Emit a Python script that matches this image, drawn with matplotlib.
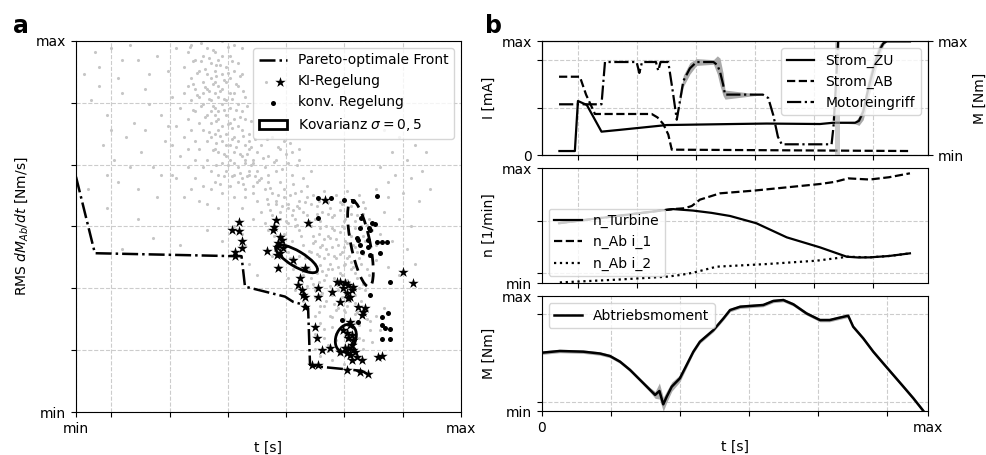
import numpy as np
import matplotlib
matplotlib.use('Agg')
import matplotlib.pyplot as plt
from matplotlib.patches import Ellipse
from matplotlib.legend_handler import HandlerTuple

plt.rcParams['font.family'] = ['DejaVu Sans']
plt.rcParams['font.size'] = 10

# ---------------- panel a data (normalised 0..100) ----------------
gray_txt = """
30 99 34 98 38 100 41 99 29 97 33 96 36 97 40 96 43 98 31 95 35 94 37 95 39 93 42 94 28 93 32 92 34 91
36 92 38 91 41 92 30 90 33 89 35 90 37 88 39 89 40 90 43 91 29 88 31 87 34 87 36 86 38 87 42 88 32 85
35 84 37 85 39 84 41 86 44 85 30 84 33 83 36 82 38 83 40 82 42 83 31 81 34 80 36 80 37 81 39 80 41 79
43 81 29 79 32 78 35 78 38 77 40 78 42 77 44 79 33 76 36 75 37 76 39 75 41 74 43 76 45 75 30 76 34 73
35 74 38 73 40 72 42 73 44 72 32 71 36 71 37 70 39 69 41 70 43 69 45 71 34 68 38 67 40 68 42 66 44 67
46 68 35 65 37 64 39 65 41 64 43 63 45 65 36 62 40 61 42 62 44 60 47 62 38 59 41 58 46 59 33 66 31 73
28 86 27 82 29 71 38 96 36 89 40 86 37 79 39 72 41 67 35 81 33 86
32.5 94.5 36.5 90.5 34.5 84.5 38.5 81.5 40.5 76.5 36.5 72.5 42.5 69.5 38.5 63.5 44.5 63.5 30.5 81.5
29.5 98.5 32.5 99.5 35.5 97.5 39.5 98.5 30.5 94.5 34.5 95.5 37.5 93.5 40.5 94.5 31.5 91.5 33.5 92.5
36.5 93.5 39.5 91.5 42.5 90.5 30.5 88.5 33.5 87.5 35.5 88.5 38.5 89.5 41.5 88.5 31.5 85.5 34.5 86.5
37.5 86.5 40.5 84.5 43.5 86.5 32.5 82.5 35.5 82.5 38.5 84.5 41.5 81.5 44.5 82.5 33.5 79.5 36.5 78.5
39.5 77.5 42.5 79.5 45.5 78.5 34.5 75.5 37.5 74.5 40.5 73.5 43.5 74.5 46.5 73.5 35.5 70.5 38.5 69.5
41.5 71.5 44.5 69.5 36.5 66.5 39.5 66.5 42.5 64.5 45.5 66.5 37.5 61.5 40.5 63.5 43.5 61.5 46.5 63.5
5 97 6 93 9 98 11 90 14 99 16 95 18 87 21 96 24 92 26 98 4 84 8 80 12 86 15 78 19 83 22 80 25 85 7 72
10 68 13 74 17 70 20 66 23 73 11 62 16 60 21 58 6 88 19 91 24 77 14 66 18 76 9 76 22 64 12 95 25 64
3 60 8 64 2 91
45 73 48 72 51 74 54 73 47 70 50 69 53 71 56 70 44 68 46 67 49 66 52 68 55 67 58 68 45 64 48 63 50 64
53 62 56 64 59 63 46 61 49 60 51 59 54 60 57 59 47 57 50 56 52 57 55 56 58 57 60 58 48 54 51 53 53 54
56 53 59 54 49 51 52 50 55 51 57 50 44 58 43 55 46 52 60 61 61 65 58 71 52 65 54 58 47 65 50 62 26 77
28 74 27 69 29 66 31 63 26 63 30 60 33 61 28 58 32 57 35 60 34 56 37 55 31 68 25 72
45.5 71.5 49.5 73.5 52.5 71.5 55.5 72.5 48.5 68.5 51.5 67.5 54.5 69.5 57.5 66.5 47.5 62.5 50.5 60.5
53.5 65.5 56.5 61.5 49.5 57.5 52.5 58.5 55.5 58.5 58.5 59.5 50.5 54.5 53.5 55.5 57.5 55.5 54.5 51.5
51.5 47.5 53.5 45.5 55.5 41.5 56.5 38.5 58.5 35.5
52 56 55 55 58 55 61 56 63 57 66 55 69 56 72 57 75 55 53 52 57 52 60 53 62 52 64 54 67 53 70 52 73 53
76 52 50 49 54 48 58 49 61 50 63 48 65 50 67 49 69 50 71 48 74 50 77 49 52 45 56 46 59 45 62 46 64 45
66 47 68 45 70 46 72 45 75 46 78 45 51 42 55 43 58 42 61 43 63 42 65 44 67 42 69 43 71 42 73 43 76 42
53 39 57 40 60 39 62 40 64 38 66 40 68 39 70 40 72 39 74 40 55 36 59 37 61 36 63 35 65 37 67 36 69 37
71 35 73 36 76 37 57 33 60 34 62 33 64 32 66 34 68 33 70 32 72 34 75 33 59 30 62 31 65 30 67 29 69 31
71 30 74 30 63 27 66 26 68 28 70 27 73 27
61.5 58.5 64.5 59.5 67.5 58.5 70.5 59.5 73.5 58.5 62.5 55.5 65.5 56.5 68.5 54.5 71.5 55.5 74.5 56.5
63.5 51.5 66.5 52.5 69.5 51.5 72.5 51.5 65.5 47.5 68.5 48.5 71.5 47.5 74.5 47.5 63.5 44.5 66.5 44.5
69.5 44.5 72.5 44.5 64.5 41.5 67.5 41.5 70.5 41.5 73.5 41.5 65.5 38.5 68.5 37.5 71.5 38.5 62.5 37.5
66.5 31.5 69.5 34.5 72.5 31.5 74.5 34.5 60.5 43.5 61.5 47.5
56.5 54.5 59.5 56.5 62.5 53.5 65.5 53.5 68.5 56.5 71.5 53.5 74.5 53.5 57.5 50.5 60.5 51.5 63.5 49.5
66.5 49.5 69.5 49.5 72.5 49.5 75.5 50.5 58.5 47.5 61.5 45.5 64.5 46.5 67.5 46.5 70.5 45.5 73.5 45.5
76.5 44.5 59.5 41.5 62.5 42.5 65.5 42.5 68.5 42.5 71.5 40.5 74.5 42.5 60.5 38.5 63.5 39.5 66.5 38.5
69.5 39.5 72.5 37.5 75.5 38.5 61.5 34.5 64.5 35.5 67.5 34.5 70.5 35.5 73.5 33.5 63.5 31.5 66.5 32.5
68.5 30.5 71.5 32.5 64.5 28.5 67.5 27.5 70.5 28.5 72.5 29.5
62 26 63.5 24 66.5 23 69.5 25 72.5 24 75.5 25 78 26 62 21 64.5 20 67.5 21 70.5 22 73.5 20 76.5 22
62 17 65.5 18 68.5 17 71.5 18 74.5 17 77 19 66.5 14 69.5 13 72.5 15 63.5 15 79 22 80 28
63.5 28.5 66.5 25.5 69.5 27.5 72.5 26.5 75.5 27.5 64.5 22.5 67.5 19.5 70.5 19.5 73.5 23.5 76.5 24.5
65.5 16.5 68.5 15.5 71.5 21.5 74.5 19.5
80 76 84 74 88 72 91 70 82 70 86 68 79 66 83 64 87 63 90 65 78 60 81 58 85 59 89 57 80 54 84 52 87 50
79 48 82 46 86 44 78 41 81 39 84 37 88 40 77 35 92 60 85 78 81 62
20 47 12 44 27 45 34 49 38 46 41 50 16 52 8 55 44 45 45 40 47 37 43 48
"""
gray_pts = np.array(gray_txt.split(), float).reshape(-1, 2)

ki_x = [42.4, 40.6, 42.4, 43.0, 43.2, 41.3, 41.3, 51.9, 51.4, 51.2, 53.0, 53.4, 52.5, 52.1, 53.8,
        49.5, 53.0, 52.1, 56.4, 59.5, 52.5, 58.2, 57.7, 58.6, 59.0, 59.5, 62.9, 62.9, 59.5, 68.6,
        69.9, 70.7, 69.4, 71.6, 70.3, 71.2, 68.6, 70.7, 66.4, 72.0, 73.3, 74.6, 75.1, 74.2, 69.4,
        70.3, 71.6, 71.2, 70.7, 72.0, 71.6, 70.7, 72.5, 71.2, 72.9, 71.6, 74.2, 70.3, 72.0, 69.9,
        62.1, 62.5, 63.8, 66.0, 68.6, 61.2, 62.9, 70.3, 73.8, 75.9, 78.5, 79.4, 85.0, 87.6, 60.3,
        64.7, 67.7, 71.2]
ki_y = [51.3, 49.1, 48.9, 46.2, 44.1, 43.2, 42.0, 51.8, 49.9, 49.1, 47.3, 46.4, 45.5, 44.6, 44.1,
        43.5, 42.9, 42.3, 41.0, 38.7, 38.7, 36.0, 34.2, 32.9, 31.5, 31.1, 33.3, 31.1, 28.4, 35.1,
        34.7, 34.2, 33.3, 32.9, 32.0, 31.1, 29.7, 30.6, 32.4, 33.8, 28.4, 27.0, 28.0, 26.1, 22.1,
        21.2, 20.8, 23.5, 19.9, 19.4, 18.1, 17.2, 16.3, 15.4, 14.9, 14.0, 14.0, 15.8, 16.7, 17.2,
        23.0, 19.9, 16.7, 17.2, 16.3, 12.7, 12.7, 11.3, 10.9, 10.2, 14.9, 15.1, 37.8, 34.7, 50.9,
        57.1, 35.1, 24.3]

konv_x = [62.9, 66.2, 69.7, 72.0, 78.3, 62.9, 74.0, 73.8, 76.2, 77.7, 72.9, 79.4, 80.9, 73.8,
          75.9, 79.0, 74.2, 76.4, 81.6, 76.4, 79.4, 81.1, 79.4, 80.3, 81.6, 79.4, 81.6, 69.0,
          73.3, 76.8, 76.4, 75.9, 78.1, 73.3]
konv_y = [57.6, 57.6, 57.1, 56.9, 58.3, 52.2, 52.2, 49.5, 49.7, 50.6, 46.8, 45.9, 45.9, 45.0,
          44.6, 42.8, 43.2, 42.3, 35.1, 31.5, 25.7, 26.6, 23.5, 22.6, 22.4, 19.7, 19.7, 24.8,
          24.3, 50.9, 49.1, 46.4, 45.9, 46.4]

front_x = [0, 4.9, 41.3, 43.0, 43.9, 54.3, 56.4, 59.5, 60.3, 60.8, 63.4, 70.3, 74.2, 75.5]
front_y = [63.4, 42.8, 42.0, 42.0, 33.8, 31.1, 29.7, 28.8, 28.0, 12.7, 12.2, 11.5, 11.1, 10.4]

# covariance ellipses: (centre x, centre y, width, height, angle)
cov_ki_big = (57.3, 41.3, 12.6, 4.1, -32)
cov_ki_small = (70.1, 19.9, 7.6, 5.2, 72)
cov_konv = (73.9, 45.4, 23.7, 5.0, 101)

xt_a = [0, 9.1, 24.4, 39.5, 54.5, 69.6, 84.9, 100]
yt_a = [0, 16.67, 33.33, 50, 66.67, 83.33, 100]

# ---------------- panel b data (normalised 0..1) ----------------
zu_x = [0.046, 0.086, 0.094, 0.117, 0.155, 0.20, 0.324, 0.496, 0.583, 0.721, 0.755,
        0.812, 0.822, 0.833, 0.842, 0.851, 0.860, 0.868, 0.877, 0.885, 0.894, 0.954]
zu_y = [0.035, 0.035, 0.474, 0.439, 0.205, 0.22, 0.263, 0.272, 0.276, 0.272, 0.283,
        0.283, 0.30, 0.38, 0.52, 0.646, 0.76, 0.85, 0.93, 0.98, 0.997, 0.997]
zu_s = [0, 0, 0, 0, 0, 0, 0, 0, 0, 0, 0,
        0.01, 0.04, 0.07, 0.09, 0.09, 0.08, 0.07, 0.05, 0.02, 0, 0]

ab_x = [0.045, 0.099, 0.115, 0.138, 0.285, 0.30, 0.315, 0.328, 0.337, 0.954]
ab_y = [0.687, 0.687, 0.53, 0.36, 0.36, 0.33, 0.272, 0.18, 0.047, 0.035]

mot_x = [0.045, 0.155, 0.164, 0.246, 0.253, 0.260, 0.296, 0.302, 0.308, 0.328, 0.340, 0.350,
         0.358, 0.367, 0.384, 0.401, 0.445, 0.455, 0.462, 0.470, 0.475, 0.573, 0.587, 0.600,
         0.612, 0.622, 0.751, 0.756, 0.762, 0.768]
mot_y = [0.445, 0.445, 0.816, 0.816, 0.72, 0.816, 0.816, 0.74, 0.816, 0.816, 0.55, 0.31,
         0.47, 0.65, 0.76, 0.816, 0.816, 0.79, 0.73, 0.62, 0.53, 0.53, 0.50, 0.35,
         0.16, 0.094, 0.094, 0.25, 0.6, 1.0]
mot_s = [0, 0, 0, 0, 0, 0, 0, 0, 0, 0, 0, 0,
         0.02, 0.05, 0.05, 0.03, 0.02, 0.08, 0.12, 0.10, 0.04, 0, 0, 0,
         0, 0, 0, 0, 0, 0]
mot_band = (0.760, 0.773)

nt_x = [0.045, 0.125, 0.34, 0.392, 0.44, 0.488, 0.556, 0.635, 0.721, 0.79, 0.82, 0.85, 0.90, 0.954]
nt_y = [0.52, 0.554, 0.643, 0.63, 0.61, 0.583, 0.52, 0.397, 0.31, 0.229, 0.222, 0.223, 0.235, 0.258]
n1_x = [0.045, 0.125, 0.34, 0.37, 0.389, 0.41, 0.462, 0.548, 0.635, 0.721, 0.76, 0.794, 0.85, 0.90, 0.954]
n1_y = [0.52, 0.554, 0.643, 0.65, 0.67, 0.725, 0.78, 0.803, 0.832, 0.861, 0.88, 0.91, 0.90, 0.92, 0.954]
n2_x = [0.047, 0.20, 0.324, 0.36, 0.393, 0.453, 0.583, 0.712, 0.78, 0.79, 0.85, 0.90, 0.954]
n2_y = [0.005, 0.03, 0.055, 0.07, 0.09, 0.142, 0.165, 0.194, 0.223, 0.229, 0.223, 0.235, 0.258]

m_x = [0, 0.047, 0.108, 0.151, 0.177, 0.203, 0.229, 0.255, 0.281, 0.294, 0.305, 0.315, 0.324,
       0.337, 0.358, 0.393, 0.41, 0.445, 0.471, 0.488, 0.514, 0.574, 0.60, 0.626, 0.652, 0.686,
       0.721, 0.746, 0.772, 0.794, 0.807, 0.833, 0.859, 0.885, 0.911, 0.937, 0.963, 0.989]
m_y = [0.507, 0.522, 0.516, 0.50, 0.478, 0.429, 0.357, 0.27, 0.183, 0.14, 0.174, 0.058, 0.125,
       0.212, 0.284, 0.516, 0.603, 0.704, 0.806, 0.878, 0.907, 0.922, 0.957, 0.965, 0.928, 0.849,
       0.791, 0.791, 0.812, 0.829, 0.733, 0.632, 0.516, 0.414, 0.313, 0.212, 0.11, 0.0]
m_s = [0.015, 0.015, 0.015, 0.015, 0.015, 0.015, 0.015, 0.015, 0.02, 0.03, 0.07, 0.06, 0.05,
       0.04, 0.03, 0.015, 0.015, 0.015, 0.015, 0.015, 0.015, 0.015, 0.015, 0.015, 0.015, 0.015,
       0.015, 0.015, 0.015, 0.015, 0.015, 0.015, 0.015, 0.015, 0.015, 0.015, 0.015, 0.015]

xt_r = [0.094, 0.247, 0.400, 0.553, 0.705, 0.858]
xt_b = [0, 0.179, 0.358, 0.536, 0.715, 0.894, 1.0]
yt_top = [0, 0.412, 0.833, 1.0]
yt_mid = [0, 0.087, 0.54, 1.0]
yt_bot = [0, 0.078, 0.843, 1.0]

GRID = dict(ls='--', color='#cccccc', lw=0.8)
BAND = '#aaaaaa'

fig = plt.figure(figsize=(9.87, 4.55), dpi=100)

# ---------------- panel a ----------------
axa = fig.add_axes([0.077, 0.0945, 0.390, 0.8154])
axa.set_axisbelow(True)
axa.set_xlim(0, 100)
axa.set_ylim(0, 100)
axa.set_xticks(xt_a)
axa.set_xticklabels(['min'] + [''] * (len(xt_a) - 2) + ['max'])
axa.set_yticks(yt_a)
axa.set_yticklabels(['min'] + [''] * (len(yt_a) - 2) + ['max'])
axa.grid(True, **GRID)

sc_gray = axa.scatter(gray_pts[:, 0], gray_pts[:, 1], s=5, c='#c6c6c6', linewidths=0, zorder=1)
ln_front, = axa.plot(front_x, front_y, ls='-.', color='black', lw=1.8, zorder=3)
sc_ki = axa.scatter(ki_x, ki_y, marker='*', s=62, c='black', linewidths=0, zorder=4)
sc_konv = axa.scatter(konv_x, konv_y, marker='o', s=13, c='black', linewidths=0, zorder=4)
e1 = Ellipse(cov_ki_big[:2], cov_ki_big[2], cov_ki_big[3], angle=cov_ki_big[4],
             fill=False, ec='black', lw=2, zorder=5)
e2 = Ellipse(cov_ki_small[:2], cov_ki_small[2], cov_ki_small[3], angle=cov_ki_small[4],
             fill=False, ec='black', lw=2, zorder=5)
e3 = Ellipse(cov_konv[:2], cov_konv[2], cov_konv[3], angle=cov_konv[4],
             fill=False, ec='black', lw=2, ls=(0, (4, 2.5)), zorder=5)
for e in (e1, e2, e3):
    axa.add_patch(e)

axa.legend([ln_front, (sc_gray, sc_ki), sc_konv, e1],
           ['Pareto-optimale Front', 'KI-Regelung', 'konv. Regelung', r'Kovarianz $\sigma=0,5$'],
           handler_map={tuple: HandlerTuple(ndivide=None, pad=0)},
           loc='upper right', fontsize=10)
axa.set_xlabel('t [s]')
axa.set_ylabel(r'RMS $dM_{Ab}/dt$ [Nm/s]')

# ---------------- panel b ----------------
L, W = 0.5488, 0.3911
axt = fig.add_axes([L, 0.6593, W, 0.2505])
axm = fig.add_axes([L, 0.378, W, 0.2527])
axb = fig.add_axes([L, 0.0967, W, 0.2527])

for ax in (axt, axm, axb):
    ax.set_xlim(0, 1)
    ax.set_ylim(0, 1)
    ax.set_axisbelow(True)

# top
axt.set_xticks(xt_r)
axt.set_xticklabels([])
axt.set_yticks(yt_top)
axt.set_yticklabels(['0', '', '', 'max'])
axt.grid(True, **GRID)
zu_x_a, zu_y_a, zu_s_a = map(np.array, (zu_x, zu_y, zu_s))
axt.fill_between(zu_x_a, zu_y_a - zu_s_a, zu_y_a + zu_s_a, color=BAND, lw=0, zorder=1)
l_zu, = axt.plot(zu_x, zu_y, '-', color='black', lw=1.6, zorder=3)
l_ab, = axt.plot(ab_x, ab_y, '--', color='black', lw=1.6, zorder=3)
axt.set_ylabel('I [mA]')

axt2 = axt.twinx()
axt2.set_ylim(0, 1)
axt2.set_yticks([0, 1])
axt2.set_yticklabels(['min', 'max'])
axt2.axvspan(*mot_band, color=BAND, alpha=0.6, lw=0, zorder=1)
mx, my, ms = map(np.array, (mot_x, mot_y, mot_s))
axt2.fill_between(mx, my - ms, my + ms, color=BAND, lw=0, zorder=1)
l_mot, = axt2.plot(mot_x, mot_y, '-.', color='black', lw=1.6, zorder=3)
axt2.set_ylabel('M [Nm]')
axt2.legend([l_zu, l_ab, l_mot], ['Strom_ZU', 'Strom_AB', 'Motoreingriff'],
            loc='upper right', fontsize=10)

# middle
axm.set_xticks(xt_r)
axm.set_xticklabels([])
axm.set_yticks(yt_mid)
axm.set_yticklabels(['min', '', '', 'max'])
axm.grid(True, **GRID)
h1, = axm.plot(n1_x, n1_y, '--', color='black', lw=1.6)
h2, = axm.plot(n2_x, n2_y, ':', color='black', lw=1.6)
ht, = axm.plot(nt_x, nt_y, '-', color='black', lw=1.6)
axm.legend([ht, h1, h2], ['n_Turbine', 'n_Ab i_1', 'n_Ab i_2'], loc='lower left', fontsize=10)
axm.set_ylabel('n [1/min]')

# bottom
axb.set_xticks(xt_b)
axb.set_xticklabels(['0'] + [''] * (len(xt_b) - 2) + ['max'])
axb.set_yticks(yt_bot)
axb.set_yticklabels(['min', '', '', 'max'])
axb.grid(True, **GRID)
bx, byy, bs = map(np.array, (m_x, m_y, m_s))
axb.fill_between(bx, byy - bs, byy + bs, color=BAND, lw=0, zorder=1)
axb.plot(m_x, m_y, '-', color='black', lw=1.8, zorder=3, label='Abtriebsmoment')
axb.legend(loc='upper left', fontsize=10)
axb.set_ylabel('M [Nm]')
axb.set_xlabel('t [s]')

fig.text(13 / 987, 1 - 33 / 455, 'a', fontsize=17, fontweight='bold')
fig.text(485 / 987, 1 - 33 / 455, 'b', fontsize=17, fontweight='bold')

fig.savefig('out.png', dpi=100)
